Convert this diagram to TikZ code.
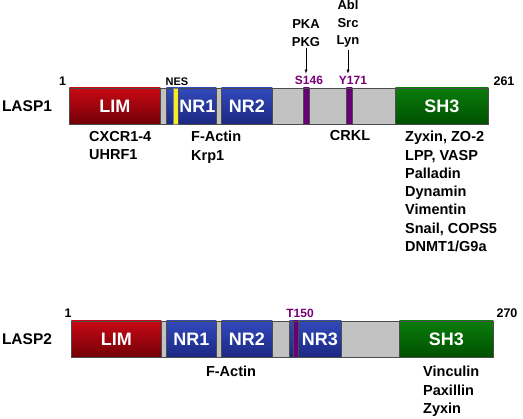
\documentclass[tikz,border=0pt]{standalone}
\usepackage{fontspec}
\setmainfont{Liberation Sans}
\usetikzlibrary{positioning}

\definecolor{limred}{RGB}{228,12,24}
\definecolor{limdark}{RGB}{115,0,8}
\definecolor{nrblue}{RGB}{58,88,212}
\definecolor{nrdark}{RGB}{28,40,130}
\definecolor{shgreen}{RGB}{14,140,14}
\definecolor{shdark}{RGB}{0,80,0}
\definecolor{linker}{RGB}{194,194,194}
\definecolor{sitecol}{RGB}{176,0,200}
\definecolor{sitetext}{RGB}{120,0,120}
\definecolor{nesyellow}{RGB}{245,235,40}

\begin{document}
\begin{tikzpicture}[x=1pt,y=-1pt]
  \tikzset{
    dombox/.style={draw=black!70, line width=0.6pt, minimum height=36pt, inner sep=0pt,
      anchor=west, text=white, font=\bfseries\fontsize{18}{18}\selectfont},
    barbox/.style={dombox, fill=linker},
    limbox/.style={dombox, top color=limred!75!limdark, middle color=limred, bottom color=limdark},
    nrbox/.style={dombox, top color=nrblue!70!nrdark, middle color=nrblue, bottom color=nrdark},
    shbox/.style={dombox, top color=shgreen!75!shdark, middle color=shgreen, bottom color=shdark},
    sitebox/.style={dombox, left color=sitecol!60!black, middle color=sitecol, right color=sitecol!60!black},
    nesbox/.style={dombox, draw=black!50, fill=nesyellow},
    numlabel/.style={font=\bfseries\fontsize{12.5}{12.5}\selectfont, inner sep=0pt},
    sitelabel/.style={font=\bfseries\fontsize{12}{12}\selectfont, text=sitetext, inner sep=2pt},
    kinase/.style={font=\bfseries\fontsize{13}{17.5}\selectfont, align=center, inner sep=2pt},
    protein/.style={font=\bfseries\fontsize{15.5}{15.5}\selectfont, inner sep=0pt},
    partner/.style={font=\bfseries\fontsize{14.5}{18.3}\selectfont, align=left, inner sep=0pt, anchor=north west},
  }

  \useasboundingbox (0,0) rectangle (523,419);

  % LASP1
  \node[protein] (lasp1) at (27,106) {LASP1};
  \node[barbox, minimum width=419pt] (bar1) at (69,106) {};
  \node[limbox, minimum width=91pt] (lim1) at (69,106) {LIM};
  \node[nrbox, minimum width=12pt] (nesreg1) at (166,106) {};
  \node[nesbox, minimum width=5pt] (nesmark1) at (173,106) {};
  \node[nrbox, minimum width=38pt] (nrone1) at (178,106) {NR1};
  \node[nrbox, minimum width=51pt] (nrtwo1) at (221,106) {NR2};
  \node[sitebox, minimum width=6pt] (s146bar) at (303,106) {};
  \node[sitebox, minimum width=6pt] (y171bar) at (346,106) {};
  \node[shbox, minimum width=93pt] (sh31) at (395,106) {SH3};

  \node[numlabel] (start1) at (62.5,81) {1};
  \node[numlabel] (end1) at (504,81) {261};
  \node[font=\bfseries\fontsize{11}{11}\selectfont, inner sep=0pt] (nes1) at (177,82) {NES};
  \node[sitelabel] (s146) at (309,80) {S146};
  \node[sitelabel] (y171) at (353,80) {Y171};

  \node[kinase] (pka) at (306,33) {PKA\\PKG};
  \node[kinase] (abl) at (348,24) {Abl\\Src\\Lyn};
  \draw[-latex, thin] (pka.south) -- (pka.south |- s146.north);
  \draw[-latex, thin] (abl.south) -- (abl.south |- y171.north);

  \node[partner] (cxcr) at (89,131) {CXCR1-4\\UHRF1};
  \node[partner] (actin1) at (191,131) {F-Actin\\Krp1};
  \node[partner, anchor=center] (crkl) at (350,136) {CRKL};
  \node[partner] (zyxin1) at (405,131) {Zyxin, ZO-2\\LPP, VASP\\Palladin\\Dynamin\\Vimentin\\Snail, COPS5\\DNMT1/G9a};

  % LASP2
  \node[protein] (lasp2) at (27,339) {LASP2};
  \node[barbox, minimum width=422pt] (bar2) at (71,339) {};
  \node[limbox, minimum width=90pt] (lim2) at (71,339) {LIM};
  \node[nrbox, minimum width=50pt] (nrone2) at (166,339) {NR1};
  \node[nrbox, minimum width=51pt] (nrtwo2) at (221,339) {NR2};
  \node[nrbox, minimum width=9pt] (t150reg) at (289,339) {};
  \node[sitebox, minimum width=5pt] (t150bar) at (293,339) {};
  \node[nrbox, minimum width=43pt] (nrthree2) at (298,339) {NR3};
  \node[shbox, minimum width=94pt] (sh32) at (399,339) {SH3};

  \node[numlabel] (start2) at (68,313) {1};
  \node[numlabel] (end2) at (507,313) {270};
  \node[sitelabel] (t150) at (300,313) {T150};

  \node[partner, anchor=center] (actin2) at (231,371) {F-Actin};
  \node[partner] (vinculin) at (423,366) {Vinculin\\Paxillin\\Zyxin};
\end{tikzpicture}
\end{document}
